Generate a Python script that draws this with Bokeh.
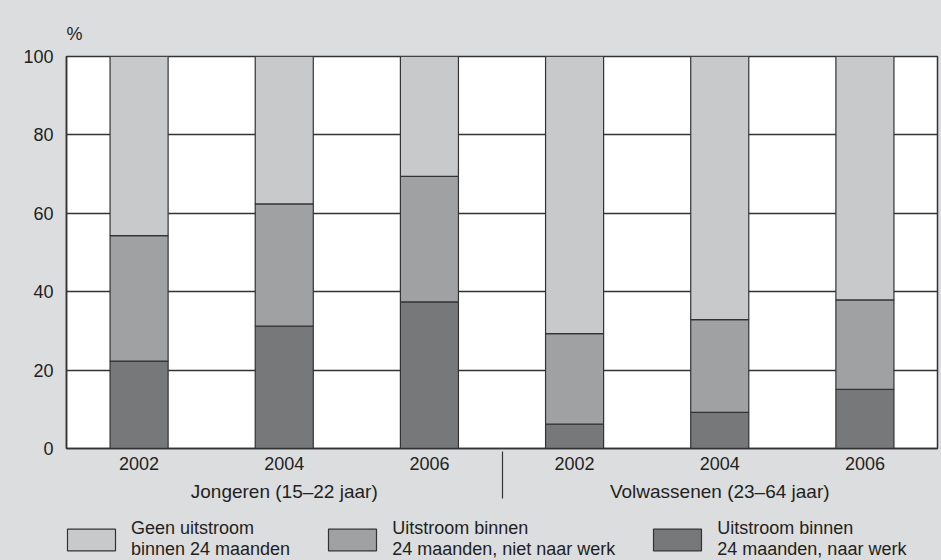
from bokeh.plotting import figure
from bokeh.models import FactorRange, ColumnDataSource, Legend, LegendItem
from bokeh.layouts import column
from bokeh.embed import file_html
from bokeh.resources import INLINE

groups = ["Jongeren (15–22 jaar)", "Volwassenen (23–64 jaar)"]
years = ["2002", "2004", "2006"]
naar_werk = [22.3, 31.2, 37.4, 6.2, 9.2, 15.1]
niet_naar_werk = [32.0, 31.2, 32.0, 23.1, 23.7, 22.8]
geen_uitstroom = [45.7, 37.6, 30.6, 70.7, 67.1, 62.1]
series_labels = ["Geen uitstroom\nbinnen 24 maanden",
                 "Uitstroom binnen\n24 maanden, niet naar werk",
                 "Uitstroom binnen\n24 maanden, naar werk"]
y_ticks = [0, 20, 40, 60, 80, 100]

FONT = "Liberation Sans"
TXT = "#231f20"
BG = "#dcdddf"
LINE = "#333333"
C_LIGHT, C_MID, C_DARK = "#c8c9cb", "#a0a1a3", "#77787a"

factors = [(g, y) for g in groups for y in years]
source = ColumnDataSource(dict(x=factors, werk=naar_werk, niet=niet_naar_werk, geen=geen_uitstroom))

p = figure(x_range=FactorRange(*factors, range_padding=0, group_padding=0, factor_padding=0),
           y_range=(0, 100), frame_width=871, frame_height=392,
           output_backend="svg", toolbar_location=None,
           min_border_left=66, min_border_right=4, min_border_top=56, min_border_bottom=62)

p.background_fill_color = "white"
p.border_fill_color = BG
p.outline_line_color = LINE
p.outline_line_width = 1.5

r = p.vbar_stack(["werk", "niet", "geen"], x="x", width=0.4, source=source,
                 color=[C_DARK, C_MID, C_LIGHT], line_color=LINE, line_width=1.2)

p.xgrid.grid_line_color = None
p.ygrid.grid_line_color = LINE
p.ygrid.grid_line_width = 1.3
p.yaxis.ticker = y_ticks

for ax in (p.xaxis[0], p.yaxis[0]):
    ax.axis_line_color = LINE
    ax.axis_line_width = 1.5
    ax.major_tick_line_color = None
    ax.minor_tick_line_color = None
    ax.major_tick_out = 0
    ax.major_tick_in = 0
    ax.major_label_text_font = FONT
    ax.major_label_text_font_size = "18px"
    ax.major_label_text_color = TXT

p.yaxis.major_label_standoff = 13
xa = p.xaxis[0]
xa.major_label_standoff = 8
xa.group_text_font = FONT
xa.group_text_font_size = "19px"
xa.group_text_font_style = "normal"
xa.group_text_color = TXT
xa.separator_line_color = LINE
xa.separator_line_width = 1.2

p.title.text = "%"
p.title.align = "left"
p.title.offset = 0
p.title.standoff = 26
p.title.text_font = FONT
p.title.text_font_size = "18px"
p.title.text_font_style = "normal"
p.title.text_color = TXT

# legend strip below the chart; its swatch renderers use the same data,
# but the strip's y-range lies above 100 so no bar shows there
lg = figure(width=941, height=50,
            x_range=FactorRange(*factors, range_padding=0, group_padding=0, factor_padding=0),
            y_range=(150, 200),
            output_backend="svg", toolbar_location=None,
            x_axis_location=None, y_axis_location=None,
            min_border_left=0, min_border_right=0, min_border_top=0, min_border_bottom=0)
lg.background_fill_color = None
lg.border_fill_color = BG
lg.outline_line_color = None
lg.xgrid.grid_line_color = None
lg.ygrid.grid_line_color = None

swatches = [lg.vbar(x="x", top=col, width=0.4, source=source,
                    fill_color=c, line_color=LINE, line_width=1.2)
            for col, c in (("geen", C_LIGHT), ("niet", C_MID), ("werk", C_DARK))]

items = [LegendItem(label=lab, renderers=[rr]) for lab, rr in zip(series_labels, swatches)]
legend = Legend(items=items, orientation="horizontal", location=(-5, 0),
                glyph_width=60, glyph_height=27, label_standoff=10, spacing=32,
                padding=0, margin=0, border_line_color=None, background_fill_alpha=0,
                label_text_font=FONT, label_text_font_size="18px", label_text_color=TXT,
                label_text_line_height=1.0)
lg.add_layout(legend, "center")

layout = column(p, lg, spacing=0, styles={"background-color": BG})
open("out.html", "w").write(file_html(layout, INLINE))
